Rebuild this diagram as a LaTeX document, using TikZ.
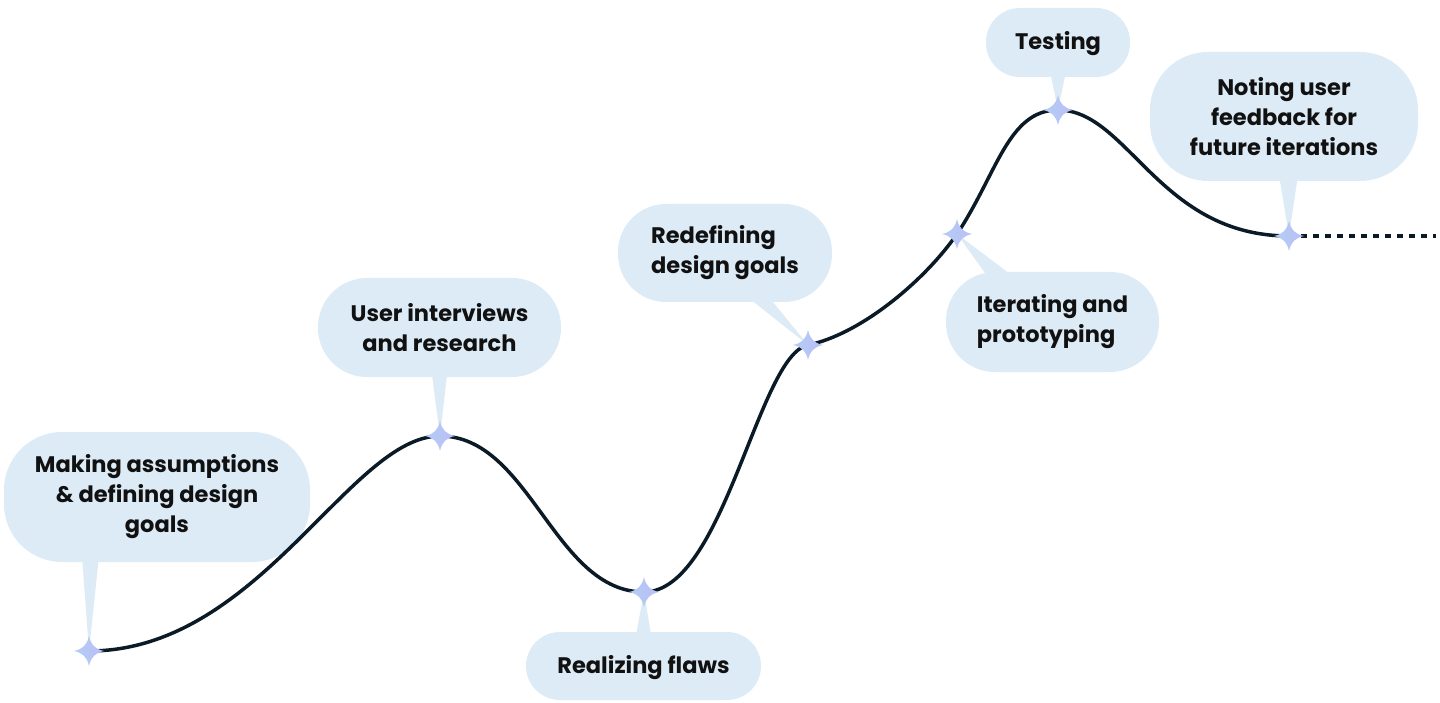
\documentclass[tikz,border=0pt]{standalone}
\usepackage{fontspec}
\setmainfont{Poppins}
\definecolor{bubble}{HTML}{DCEBF5}
\definecolor{curve}{HTML}{0A1A26}
\definecolor{starL}{HTML}{B3CDF3}
\definecolor{starR}{HTML}{BABEF8}
\definecolor{ink}{HTML}{111111}
\tikzset{
  bub/.style={fill=bubble, rectangle, inner sep=0pt, text=ink,
    font=\fontsize{22.5}{30}\selectfont\bfseries,
    execute at begin node={\rule{0pt}{\dimexpr\fontcharht\font`l+5pt\relax}}},
  tip/.style={fill=bubble},
  pathline/.style={draw=curve, line width=3.5pt, line cap=round},
  dotline/.style={draw=curve, line width=3.5pt, dash pattern=on 6pt off 6pt},
  sparkle/.pic={
    \shade[left color=starL, right color=starR]
      (0,-15) .. controls (2,-6) and (6,-2) .. (15,0)
      .. controls (6,2) and (2,6) .. (0,15)
      .. controls (-2,6) and (-6,2) .. (-15,0)
      .. controls (-6,-2) and (-2,-6) .. (0,-15) -- cycle;
  }
}
\begin{document}
\begin{tikzpicture}[x=1pt,y=-1pt]
\useasboundingbox (0,0) rectangle (1440,703);
% star coordinates
\coordinate (s1) at (89,651);
\coordinate (s2) at (440,436);
\coordinate (s3) at (644,592);
\coordinate (s4) at (808,345);
\coordinate (s5) at (957,234);
\coordinate (s6) at (1058,110);
\coordinate (s7) at (1289,236);
\coordinate (e) at (1436,236);
% bubbles
\node[bub, minimum width=306pt, minimum height=130pt, rounded corners=58pt, align=center] (b1) at (157,497) {Making assumptions\\\& defining design\\goals};
\node[bub, minimum width=243pt, minimum height=99pt, rounded corners=49pt, align=center] (b2) at (439.5,327.5) {User interviews\\and research};
\node[bub, minimum width=235pt, minimum height=68pt, rounded corners=34pt, align=center] (b3) at (643.5,666) {Realizing flaws};
\node[bub, minimum width=214pt, minimum height=98pt, rounded corners=48pt, align=left] (b4) at (725,253) {Redefining\\design goals};
\node[bub, minimum width=144pt, minimum height=69pt, rounded corners=34pt, align=center] (b6) at (1058,42.5) {Testing};
\node[bub, minimum width=213pt, minimum height=100pt, rounded corners=49pt, align=left] (b5) at (1052.5,322) {Iterating and\\prototyping};
\node[bub, minimum width=268pt, minimum height=129pt, rounded corners=58pt, align=center] (b7) at (1284,116.5) {Noting user\\feedback for\\future iterations};
% pointers
\fill[tip] (82,556) -- (99,556) -- (s1) -- cycle;
\fill[tip] ([xshift=-8pt,yshift=6pt]b2.south) -- ([xshift=8pt,yshift=6pt]b2.south) -- (s2) -- cycle;
\fill[tip] ([xshift=-8pt,yshift=-6pt]b3.north) -- ([xshift=8pt,yshift=-6pt]b3.north) -- (s3) -- cycle;
\fill[tip] (745,295) -- (768,296) -- (s4) -- cycle;
\fill[tip] ([xshift=-8pt,yshift=6pt]b6.south) -- ([xshift=8pt,yshift=6pt]b6.south) -- (s6) -- cycle;
\fill[tip] (1018,280) -- (990,280) -- (s5) -- cycle;
\fill[tip] (1279,175) -- (1298,175) -- (s7) -- cycle;
% curve
\draw[pathline] (s1) .. controls +(170,0) and +(-90,0) .. (s2)
  .. controls +(90,0) and +(-90,0) .. (s3)
  .. controls +(80,0) and +(-50,10) .. (s4)
  .. controls +(50,-10) and +(-35,50) .. (s5)
  .. controls +(40,-60) and +(-50,0) .. (s6)
  .. controls +(70,0) and +(-130,0) .. (s7);
\draw[dotline] ([xshift=12pt]s7) -- (e);
% stars
\foreach \s in {s1,s2,s3,s4,s5,s6,s7} \pic at (\s) {sparkle};
\end{tikzpicture}
\end{document}
